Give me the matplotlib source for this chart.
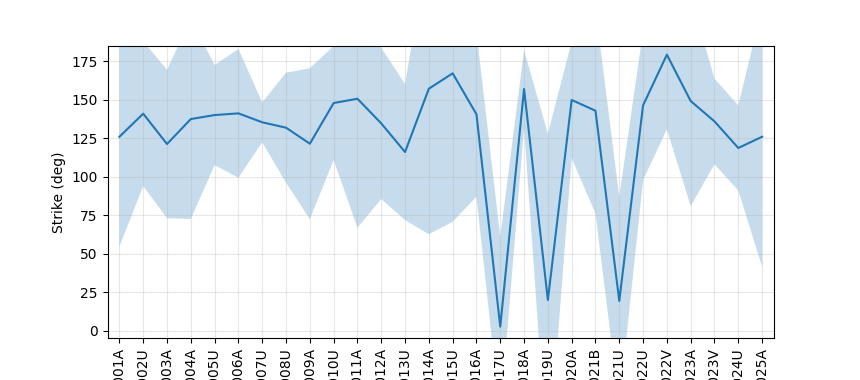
import numpy as np
import matplotlib
matplotlib.use("Agg")
import matplotlib.pyplot as plt

stations = ['ST001A', 'ST002U', 'ST003A', 'ST004A', 'ST005U', 'ST006A', 'ST007U',
            'ST008U', 'ST009A', 'ST010U', 'ST011A', 'ST012A', 'ST013U', 'ST014A',
            'ST015U', 'ST016A', 'ST017U', 'ST018A', 'ST019U', 'ST020A', 'ST021B',
            'ST021U', 'ST022U', 'ST022V', 'ST023A', 'ST023V', 'ST024U', 'ST025A']

strike_mean = [125.8, 140.8, 121.1, 137.3, 139.9, 141.0, 135.2,
               131.7, 121.3, 147.7, 150.5, 134.5, 115.9, 157.0,
               167.0, 140.4, 2.5, 156.8, 19.8, 149.7, 142.7,
               19.2, 146.2, 179.1, 149.0, 135.8, 118.5, 125.8]

strike_std = [71.4, 47.0, 48.2, 64.9, 32.5, 41.8, 13.0,
              35.7, 49.0, 37.0, 83.7, 49.1, 44.2, 94.5,
              96.4, 53.5, 58.4, 25.3, 108.0, 37.9, 66.7,
              67.7, 48.5, 48.5, 68.2, 27.8, 27.6, 84.4]

mean = np.array(strike_mean)
std = np.array(strike_std)
x = np.arange(len(stations))

fig, ax = plt.subplots(figsize=(8.6, 3.8), dpi=100)
ax.fill_between(x, mean - std, mean + std, color='C0', alpha=0.25, linewidth=0)
ax.plot(x, mean, color='C0')
ax.set_xticks(x)
ax.set_xticklabels(stations, rotation=90)
ax.set_xlim(-0.5, len(stations) - 0.5)
ax.set_ylim(-5, 185)
ax.set_ylabel('Strike (deg)')
ax.grid(alpha=0.3)

fig.savefig('out.png', dpi=100)
